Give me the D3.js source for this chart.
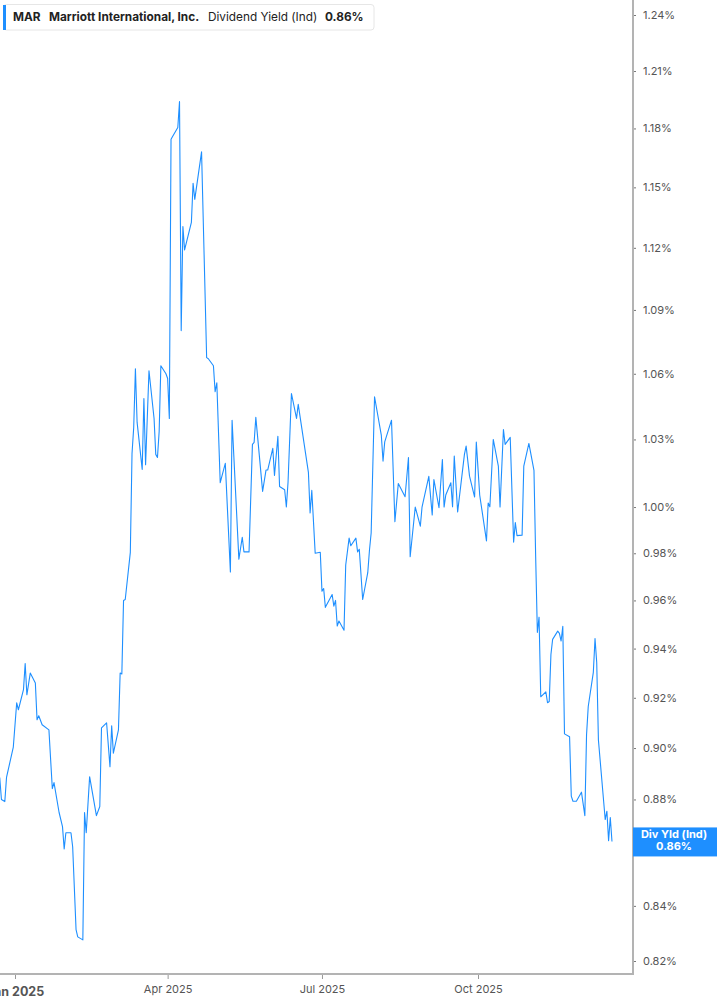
<!DOCTYPE html>
<html>
<head>
<meta charset="utf-8">
<script src="https://cdn.jsdelivr.net/npm/d3@7"></script>
<style>
  body { margin: 0; background: #fff; }
  svg { display: block; font-family: Inter, "Open Sans", sans-serif; }
</style>
</head>
<body>
<div id="chart"></div>
<script>
// dividend yield (ind), percent
var dates = [
  "2024-12-23","2024-12-24","2024-12-26","2024-12-27","2024-12-31",
  "2025-01-02","2025-01-03","2025-01-06","2025-01-07","2025-01-08","2025-01-10","2025-01-13","2025-01-14","2025-01-15","2025-01-17","2025-01-21","2025-01-23","2025-01-24","2025-01-27","2025-01-29","2025-01-30","2025-01-31",
  "2025-02-03","2025-02-04","2025-02-06","2025-02-07","2025-02-10","2025-02-11","2025-02-12","2025-02-14","2025-02-18","2025-02-20","2025-02-21","2025-02-24","2025-02-26","2025-02-27","2025-02-28",
  "2025-03-03","2025-03-04","2025-03-05","2025-03-06","2025-03-07","2025-03-10","2025-03-11","2025-03-12","2025-03-13","2025-03-14","2025-03-17","2025-03-18","2025-03-19","2025-03-21","2025-03-24","2025-03-25","2025-03-26","2025-03-27","2025-03-28","2025-03-31",
  "2025-04-01","2025-04-02","2025-04-03","2025-04-04","2025-04-07","2025-04-08","2025-04-09","2025-04-10","2025-04-11","2025-04-15","2025-04-16","2025-04-17","2025-04-21","2025-04-24","2025-04-25","2025-04-28","2025-04-29","2025-04-30",
  "2025-05-02","2025-05-05","2025-05-08","2025-05-09","2025-05-13","2025-05-15","2025-05-16","2025-05-19","2025-05-21","2025-05-22","2025-05-23","2025-05-27","2025-05-29","2025-05-30",
  "2025-06-02","2025-06-03","2025-06-05","2025-06-06","2025-06-09","2025-06-10","2025-06-11","2025-06-13","2025-06-16","2025-06-17","2025-06-23","2025-06-24","2025-06-25","2025-06-27","2025-06-30",
  "2025-07-01","2025-07-02","2025-07-03","2025-07-07","2025-07-08","2025-07-09","2025-07-10","2025-07-11","2025-07-14","2025-07-15","2025-07-17","2025-07-18","2025-07-21","2025-07-22","2025-07-23","2025-07-25","2025-07-28","2025-07-29","2025-07-30",
  "2025-08-01","2025-08-05","2025-08-06","2025-08-07","2025-08-11","2025-08-13","2025-08-15","2025-08-19","2025-08-21","2025-08-22","2025-08-25","2025-08-28","2025-08-29",
  "2025-09-02","2025-09-04","2025-09-05","2025-09-08","2025-09-10","2025-09-11","2025-09-12","2025-09-15","2025-09-16","2025-09-17","2025-09-19","2025-09-23","2025-09-24","2025-09-26","2025-09-29","2025-09-30",
  "2025-10-02","2025-10-06","2025-10-07","2025-10-08","2025-10-10","2025-10-13","2025-10-14","2025-10-16","2025-10-17","2025-10-20","2025-10-22","2025-10-23","2025-10-24","2025-10-27","2025-10-28","2025-10-31",
  "2025-11-03","2025-11-04","2025-11-05","2025-11-06","2025-11-07","2025-11-10","2025-11-11","2025-11-12","2025-11-13","2025-11-14","2025-11-17","2025-11-18","2025-11-19","2025-11-20","2025-11-21","2025-11-24","2025-11-25","2025-11-26","2025-11-28",
  "2025-12-01","2025-12-03","2025-12-04","2025-12-05","2025-12-08","2025-12-09","2025-12-10","2025-12-11","2025-12-15","2025-12-16","2025-12-17","2025-12-18","2025-12-19"
];
var yields = [
  0.8885,0.880,0.8792,0.8885,0.9004,
  0.918,0.9152,0.9233,0.9339,0.9212,0.930,0.926,0.9112,0.9128,0.9092,0.9072,0.8842,0.8865,0.875,0.8696,0.8612,0.8673,
  0.8673,0.862,0.8313,0.8287,0.8276,0.875,0.8673,0.8888,0.8738,0.8773,0.908,0.910,0.8927,0.9088,0.898,
  0.9072,0.930,0.9296,0.960,0.9604,0.9804,1.0237,1.0355,1.0623,1.0377,1.0166,1.0486,1.0187,1.0614,1.0395,1.0233,1.0219,1.0336,1.0637,1.060,
  1.0578,1.0395,1.1744,1.176,1.1805,1.194,1.0802,1.1305,1.119,1.1325,1.152,1.144,1.168,1.0675,1.067,1.0637,1.0517,1.0558,
  1.0107,1.0193,0.972,1.0387,0.9775,0.9869,0.9806,0.9806,1.0278,1.0287,1.040,1.0069,1.0163,1.0163,
  1.026,1.0139,1.0314,1.009,1.0076,1.000,1.011,1.0509,1.0395,1.0459,1.0153,0.9974,1.0073,0.980,0.9804,
  0.9639,0.965,0.9571,0.9625,0.9576,0.960,0.9493,0.9514,0.9476,0.975,0.9865,0.9832,0.9865,0.9806,0.9817,0.9604,0.9717,0.9813,0.9887,
  1.0494,1.0318,1.0203,1.0289,1.0387,0.9936,1.0103,1.0045,1.0219,0.9785,1.000,0.9917,1.000,
  1.0135,0.9965,1.0121,0.9997,1.021,1.000,1.0053,1.0107,1.0001,1.0225,0.9979,1.0233,1.027,1.0136,1.0044,1.0288,
  1.0053,0.9853,1.0018,1.0001,1.030,1.0181,1.000,1.0345,1.0278,1.0309,0.9848,0.9932,0.9876,0.9878,1.0181,1.0282,
  1.0162,0.9785,0.9467,0.953,0.9204,0.9224,0.918,0.9185,0.9376,0.9438,0.9472,0.9463,0.9431,0.9492,0.9056,0.9045,0.8813,0.8793,0.8793,
  0.8828,0.8738,0.9052,0.9165,0.9303,0.9441,0.9343,0.9032,0.8723,0.8755,0.8643,0.8731,0.864
];
var yTicks = [0.82,0.84,0.86,0.88,0.90,0.92,0.94,0.96,0.98,1.00,1.03,1.06,1.09,1.12,1.15,1.18,1.21,1.24];
var xTicks = ["2025-01-01","2025-04-01","2025-07-01","2025-10-01"];
var xTickLabels = ["Jan 2025","Apr 2025","Jul 2025","Oct 2025"];
var ticker = "MAR", company = "Marriott International, Inc.", metric = "Dividend Yield (Ind)";
var tagLabel = "Div Yld (Ind)";

var width = 717, height = 1005;
var plotRight = 633, plotBottom = 974;
var blue = "#1e8fff";
var parse = d3.timeParse("%Y-%m-%d");

var data = dates.map(function(d, i) { return {date: parse(d), value: yields[i]}; });
var last = data[data.length - 1];

var svg = d3.select("#chart").append("svg")
  .attr("width", width).attr("height", height);

var x = d3.scaleTime()
  .domain([parse("2025-01-01"), parse("2025-10-01")])
  .range([15, 478]);
var y = d3.scaleLog()
  .domain([0.82, 1.24])
  .range([961, 15]);

svg.append("clipPath").attr("id", "plot")
  .append("rect").attr("x", 0).attr("y", 0).attr("width", plotRight).attr("height", plotBottom);

// line
var line = d3.line()
  .x(function(d) { return x(d.date); })
  .y(function(d) { return y(d.value); });

svg.append("path")
  .datum(data)
  .attr("clip-path", "url(#plot)")
  .attr("fill", "none")
  .attr("stroke", blue)
  .attr("stroke-width", 1.1)
  .attr("stroke-linejoin", "round")
  .attr("d", line);

// right axis
var yAxis = d3.axisRight(y)
  .tickValues(yTicks)
  .tickSize(3)
  .tickPadding(7)
  .tickFormat(function(d) { return d.toFixed(2) + "%"; });

var gy = svg.append("g")
  .attr("transform", "translate(" + plotRight + ",0)")
  .call(yAxis);
gy.select(".domain").remove();
gy.selectAll(".tick line").attr("stroke", "#777").attr("stroke-width", 1);
gy.selectAll(".tick text")
  .attr("fill", "#555")
  .style("font-size", "11px")
  .style("font-family", "Inter, 'Open Sans', sans-serif");

// bottom axis
var xAxis = d3.axisBottom(x)
  .tickValues(xTicks.map(parse))
  .tickSize(5)
  .tickPadding(6)
  .tickFormat(function(d, i) { return xTickLabels[i]; });

var gx = svg.append("g")
  .attr("transform", "translate(0," + plotBottom + ")")
  .call(xAxis);
gx.select(".domain").remove();
gx.selectAll(".tick line").attr("stroke", "#999").attr("stroke-width", 1);
gx.selectAll(".tick text")
  .attr("fill", "#555")
  .style("font-size", "11px")
  .style("font-family", "Inter, 'Open Sans', sans-serif");
gx.selectAll(".tick text").filter(function(d, i) { return i === 0; })
  .style("font-size", "12.5px")
  .style("font-weight", "bold")
  .attr("dy", "0.85em");

// axis lines
svg.append("line")
  .attr("x1", plotRight).attr("x2", plotRight)
  .attr("y1", 0).attr("y2", plotBottom + 1)
  .attr("stroke", "#b3b3b3").attr("stroke-width", 2);
svg.append("line")
  .attr("x1", 0).attr("x2", plotRight + 1)
  .attr("y1", plotBottom).attr("y2", plotBottom)
  .attr("stroke", "#b3b3b3").attr("stroke-width", 2);

// last value tag
var tag = svg.append("g").attr("transform", "translate(" + plotRight + "," + y(last.value) + ")");
tag.append("rect")
  .attr("x", 0).attr("y", -14).attr("width", width - plotRight).attr("height", 29)
  .attr("fill", blue);
tag.append("text")
  .attr("x", (width - plotRight) / 2 - 1).attr("y", -3)
  .attr("text-anchor", "middle")
  .attr("fill", "#fff")
  .style("font-size", "11px").style("font-weight", "bold")
  .text(tagLabel);
tag.append("text")
  .attr("x", (width - plotRight) / 2 - 1).attr("y", 9)
  .attr("text-anchor", "middle")
  .attr("fill", "#fff")
  .style("font-size", "11px").style("font-weight", "bold")
  .text(last.value.toFixed(2) + "%");

// header legend
var head = svg.append("g");
head.append("rect")
  .attr("x", 3.5).attr("y", 4.5).attr("width", 370.5).attr("height", 25.5)
  .attr("rx", 3)
  .attr("fill", "#fff").attr("stroke", "#e6e6e6");
head.append("rect")
  .attr("x", 3).attr("y", 5).attr("width", 3).attr("height", 25)
  .attr("fill", blue);
var ht = head.append("text").attr("y", 21).attr("fill", "#222").style("font-size", "11.8px");
ht.append("tspan").attr("x", 13).style("font-weight", "bold").text(ticker);
ht.append("tspan").attr("x", 49).style("font-weight", "bold").text(company);
ht.append("tspan").attr("x", 208).text(metric);
ht.append("tspan").attr("x", 325).style("font-weight", "bold").text(last.value.toFixed(2) + "%");
</script>
</body>
</html>
